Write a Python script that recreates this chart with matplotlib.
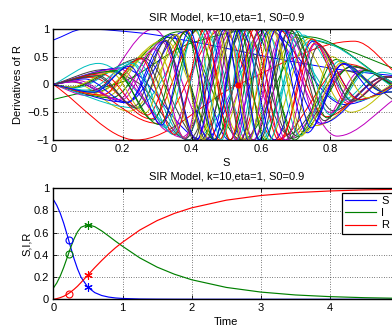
import numpy as np
import matplotlib
matplotlib.use("Agg")
import matplotlib.pyplot as plt
from matplotlib.path import Path
from matplotlib.patches import PathPatch
from matplotlib.ticker import FuncFormatter

plt.rcParams['font.family'] = ['Liberation Sans', 'DejaVu Sans']
plt.rcParams['font.size'] = 8

TITLE = "SIR Model, k=10,eta=1, S0=0.9"
LINE_COLORS = ['#0000ff', '#008000', '#ff0000', '#00bfbf', '#bf00bf', '#bfbf00', '#404040']

# ---------------- top panel: derivative curves (S position, value at turning points) -------------
d01_s = [0, .09, .25, .42, .66, .85, 1.0]
d01_y = [.8, 1.0, .93, .75, .45, .25, .15]
d02_s = [0, .2, .4, .6, .8, 1.0]
d02_y = [-.27, .05, .75, 1.0, .72, .25]
d03_s = [0, .24, .535, .87, 1.0]
d03_y = [0, -1.0, 0.0, .78, .15]
d04_s = [0, .13, .4, .65, .83, .95, 1.0]
d04_y = [0, .38, -1.0, 1.0, -.3, .22, .15]
d05_s = [0, .1, .29, .46, .62, .82, 1.0]
d05_y = [0, -.2, 1.0, -1.0, 1.0, -.93, -.2]
d06_s = [0, .05, .22, .4, .55, .7, .86, 1.0]
d06_y = [0, .05, -.48, 1.0, -1.0, .85, -.5, .1]
d07_s = [0, .15, .24, .39, .53, .68, .84, 1.0]
d07_y = [0, .27, .05, -1.0, 1.0, -.9, .25, -.35]
d08_s = [0, .2, .436, .612, .842, 1.0]
d08_y = [0, .3, -1.0, 1.0, -.36, .02]
d09_s = [0, .118, .363, .545, .734, 1.0]
d09_y = [0, -.14, .95, -1.0, .86, -.1]
d10_s = [0, .052, .301, .487, .643, .847, 1.0]
d10_y = [0, .05, -.7, 1.0, -1.0, .37, -.04]
d11_s = [0, .237, .429, .577, .749, 1.0]
d11_y = [0, -.42, 1.0, -1.0, .8, -.12]
d12_s = [0, .171, .371, .524, .671, .862, 1.0]
d12_y = [0, .23, -.95, 1.0, -1.0, .32, -.05]
d13_s = [0, .122, .322, .477, .602, .759, .964, 1.0]
d13_y = [0, -.15, .8, -1.0, 1.0, -.74, .14, .12]
d14_s = [0, .053, .26, .424, .553, .69, .863, 1.0]
d14_y = [0, -.05, .48, -1.0, 1.0, -.97, .32, -.06]
d15_s = [0, .213, .378, .509, .628, .775, .962, 1.0]
d15_y = [0, -.32, .95, -1.0, 1.0, -.7, .14, .12]
d16_s = [0, .167, .333, .467, .577, .705, .864, 1.0]
d16_y = [0, -.24, .85, -1.0, 1.0, -.93, .33, -.08]
d17_s = [0, .111, .283, .422, .536, .65, .789, .959, 1.0]
d17_y = [0, .13, -.62, 1.0, -1.0, 1.0, -.58, .14, .12]
d18_s = [0, .063, .238, .382, .498, .6, .722, .872, 1.0]
d18_y = [0, -.06, .42, -.97, 1.0, -1.0, .89, -.3, .02]
d19_s = [0, .192, .337, .458, .558, .667, .799, .959, 1.0]
d19_y = [0, .28, -.85, 1.0, -1.0, 1.0, -.5, .14, .12]
d20_s = [0, .14, .292, .418, .522, .62, .739, .882, 1.0]
d20_y = [0, -.19, .66, -1.0, 1.0, -1.0, .83, -.28, .08]
d21_s = [0, .104, .256, .383, .489, .578, .683, .808, .958, 1.0]
d21_y = [0, -.12, .46, -.97, 1.0, -1.0, .98, -.47, .14, .12]
d22_s = [0, .058, .212, .342, .451, .543, .638, .751, .886, 1.0]
d22_y = [0, .05, -.33, .9, -1.0, 1.0, -1.0, .78, -.27, .05]
d23_s = [0, .173, .305, .417, .511, .597, .697, .817, .959, 1.0]
d23_y = [0, .24, -.72, 1.0, -1.0, 1.0, -1.0, .45, -.14, -.12]
d24_s = [0, .14, .272, .385, .48, .562, .652, .758, .884, 1.0]
d24_y = [0, .19, -.55, .97, -1.0, 1.0, -1.0, .75, -.27, .03]
d25_s = [0, .094, .231, .347, .446, .531, .614, .712, .827, .962, 1.0]
d25_y = [0, -.1, .38, -.9, 1.0, -1.0, 1.0, -.92, .42, -.14, -.12]
d26_s = [0, .058, .196, .314, .415, .502, .578, .667, .77, .891, 1.0]
d26_y = [0, .05, -.28, .77, -1.0, 1.0, -1.0, 1.0, -.72, .26, -.03]
d27_s = [0, .156, .277, .381, .471, .549, .63, .724, .834, .963, 1.0]
d27_y = [0, -.21, .56, -.96, 1.0, -1.0, 1.0, -.88, .4, -.14, -.12]
d28_s = [0, .122, .245, .351, .442, .521, .597, .683, .783, .899, 1.0]
d28_y = [0, .15, -.43, .9, -1.0, 1.0, -1.0, 1.0, -.65, .25, -.03]
d29_s = [0, .091, .214, .321, .414, .495, .565, .644, .734, .838, .959, 1.0]
d29_y = [0, .1, -.32, .78, -1.0, 1.0, -1.0, 1.0, -.87, .38, -.14, -.12]
d30_s = [0, .056, .18, .288, .383, .465, .538, .611, .695, .791, .902, 1.0]
d30_y = [0, -.05, .25, -.64, .96, -1.0, 1.0, -1.0, 1.0, -.6, .25, -.03]
d31_s = [0, .141, .253, .351, .437, .512, .58, .658, .747, .85, .967, 1.0]
d31_y = [0, -.19, .47, -.9, 1.0, -1.0, 1.0, -1.0, .82, -.34, .13, .12]
d32_s = [0, .115, .227, .325, .411, .486, .553, .625, .706, .799, .906, 1.0]
d32_y = [0, -.13, .38, -.78, 1.0, -1.0, 1.0, -1.0, .96, -.54, .23, -.03]
d33_s = [0, .073, .189, .291, .38, .459, .528, .595, .671, .757, .856, .969, 1.0]
d33_y = [0, .07, -.27, .64, -.97, 1.0, -1.0, 1.0, -1.0, .73, -.32, .13, .12]
d34_s = [0, .05, .165, .266, .356, .435, .505, .567, .637, .716, .806, .908, 1.0]
d34_y = [0, -.05, .22, -.51, .9, -1.0, 1.0, -1.0, 1.0, -.93, .5, -.24, .03]
d35_s = [0, .13, .234, .326, .407, .479, .543, .609, .683, .767, .862, .969, 1.0]
d35_y = [0, .16, -.39, .79, -1.0, 1.0, -1.0, 1.0, -.98, .7, -.3, .13, .12]
d36_s = [0, .117, .221, .313, .394, .467, .531, .594, .665, .745, .836, .938, 1.0]
d36_y = [0, -.14, .33, -.73, .98, -1.0, 1.0, -1.0, 1.0, -.78, .37, -.18, .03]

DERIV_CURVES = [
    (d01_s, d01_y), (d02_s, d02_y), (d03_s, d03_y), (d04_s, d04_y), (d05_s, d05_y), (d06_s, d06_y),
    (d07_s, d07_y), (d08_s, d08_y), (d09_s, d09_y), (d10_s, d10_y), (d11_s, d11_y), (d12_s, d12_y),
    (d13_s, d13_y), (d14_s, d14_y), (d15_s, d15_y), (d16_s, d16_y), (d17_s, d17_y), (d18_s, d18_y),
    (d19_s, d19_y), (d20_s, d20_y), (d21_s, d21_y), (d22_s, d22_y), (d23_s, d23_y), (d24_s, d24_y),
    (d25_s, d25_y), (d26_s, d26_y), (d27_s, d27_y), (d28_s, d28_y), (d29_s, d29_y), (d30_s, d30_y),
    (d31_s, d31_y), (d32_s, d32_y), (d33_s, d33_y), (d34_s, d34_y), (d35_s, d35_y), (d36_s, d36_y),
]
focus_s = [0.535]
focus_y = [0.0]

# ---------------- bottom panel: SIR time courses -------------
time = [0, .05, .1, .15, .2, .25, .3, .35, .4, .5, .6, .7, .8, .9, 1.0, 1.25, 1.5, 1.75, 2.0, 2.5, 3.0, 3.5, 4.0, 4.5, 5.0]
S_vals = [.9, .847, .776, .686, .581, .470, .365, .274, .200, .108, .060, .034, .020, .012, .0076, .0026, .0012,
          .0006, .0003, .0001, 0, 0, 0, 0, 0]
I_vals = [.1, .147, .209, .287, .375, .465, .545, .608, .649, .673, .654, .616, .570, .523, .478, .373, .290,
          .226, .176, .107, .065, .039, .024, .0145, .0088]
R_vals = [0, .006, .015, .027, .044, .065, .090, .118, .151, .219, .286, .350, .410, .465, .514, .624, .709,
          .774, .824, .893, .935, .961, .976, .9855, .991]
series_labels = ['S', 'I', 'R']
circle_t = .22
circle_vals = [.537, .411, .052]
star_t = .5
star_vals = [.108, .673, .219]


def smooth_path(xs, ys):
    x = np.asarray(xs, float)
    y = np.asarray(ys, float)
    n = len(x)
    h = np.diff(x)
    d = np.diff(y) / h
    m = np.zeros(n)
    for i in range(1, n - 1):
        if d[i - 1] * d[i] > 0:
            w1 = 2 * h[i] + h[i - 1]
            w2 = h[i] + 2 * h[i - 1]
            m[i] = (w1 + w2) / (w1 / d[i - 1] + w2 / d[i])
    m[0] = d[0]
    m[-1] = d[-1]
    verts = [(x[0], y[0])]
    codes = [Path.MOVETO]
    for i in range(n - 1):
        verts += [(x[i] + h[i] / 3, y[i] + m[i] * h[i] / 3),
                  (x[i + 1] - h[i] / 3, y[i + 1] - m[i + 1] * h[i] / 3),
                  (x[i + 1], y[i + 1])]
        codes += [Path.CURVE4] * 3
    return Path(verts, codes)


def fmt(v, pos):
    return ('%g' % v).replace('-', '\u2212')


def style_axes(ax):
    ax.grid(True, linestyle=(0, (1, 2.5)), color='k', linewidth=0.5)
    ax.tick_params(direction='in', length=3, width=0.6, top=True, right=True, labelsize=8, pad=3)
    for sp in ax.spines.values():
        sp.set_linewidth(1.0)
    ax.xaxis.set_major_formatter(FuncFormatter(fmt))
    ax.yaxis.set_major_formatter(FuncFormatter(fmt))


fig = plt.figure(figsize=(3.92, 3.25), dpi=100)
W, H = 392.0, 325.0
ax1 = fig.add_axes([53.3 / W, 1 - 140 / H, (399.3 - 53.3) / W, (140 - 29) / H])
ax2 = fig.add_axes([53.3 / W, 1 - 299.3 / H, (399.3 - 53.3) / W, (299.3 - 188.3) / H])

for k, (sx, sy) in enumerate(DERIV_CURVES):
    col = LINE_COLORS[k % len(LINE_COLORS)]
    ax1.add_patch(PathPatch(smooth_path(sx, sy), facecolor='none', edgecolor=col, linewidth=0.72))
ax1.plot(focus_s, focus_y, 'o', color='r', markersize=3.5, zorder=5)
ax1.set_xlim(0, 1)
ax1.set_ylim(-1, 1)
ax1.set_xticks([0, .2, .4, .6, .8])
ax1.set_yticks([-1, -.5, 0, .5, 1])
style_axes(ax1)
ax1.set_title(TITLE, fontsize=8, pad=6)
ax1.set_xlabel('S', fontsize=8)
ax1.set_ylabel('Derivatives of R', fontsize=8)
ax1.xaxis.set_label_coords(0.5, -0.162)
ax1.yaxis.set_label_coords(-0.0876, 0.5)

cols3 = ['#0000ff', '#008000', '#ff0000']
for vals, lab, col in zip([S_vals, I_vals, R_vals], series_labels, cols3):
    ax2.plot(time, vals, '-', color=col, linewidth=0.85, label=lab)
for v, col in zip(circle_vals, cols3):
    ax2.plot([circle_t], [v], 'o', mfc='none', mec=col, markersize=5, mew=0.8)
for v, col in zip(star_vals, cols3):
    ax2.plot([star_t], [v], marker=(6, 2, 0), color=col, markersize=6, mew=0.8, linestyle='none')
ax2.set_xlim(0, 5)
ax2.set_ylim(0, 1)
ax2.set_xticks([0, 1, 2, 3, 4])
ax2.set_yticks([0, .2, .4, .6, .8, 1.0])
style_axes(ax2)
ax2.set_title(TITLE, fontsize=8, pad=6.5)
ax2.set_xlabel('Time', fontsize=8)
ax2.set_ylabel('S,I,R', fontsize=8)
ax2.xaxis.set_label_coords(0.5, -0.155)
ax2.yaxis.set_label_coords(-0.0624, 0.5)
leg = ax2.legend(loc='upper left', bbox_to_anchor=(342 / W, 1 - 192.7 / H), bbox_transform=fig.transFigure,
                 fancybox=False, edgecolor='k', framealpha=1, handlelength=2.8, handletextpad=0.45,
                 labelspacing=0.2, borderpad=0.3, borderaxespad=0, fontsize=8)
leg.get_frame().set_linewidth(0.9)

fig.savefig('out.png', dpi=100)
